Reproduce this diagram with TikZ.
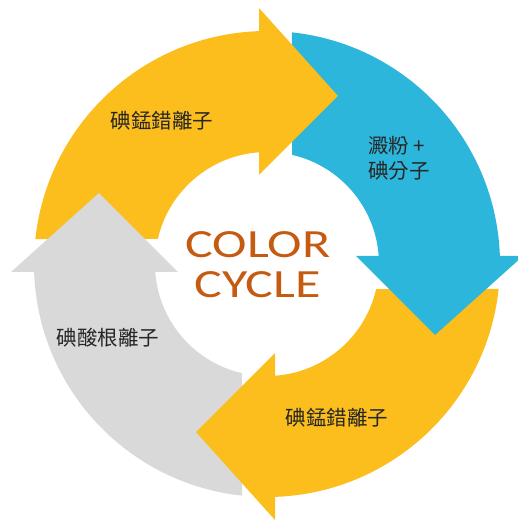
\documentclass[tikz,border=0pt]{standalone}
\usepackage{fontspec}
\usepackage{graphicx}
\setmainfont{Carlito}
\newfontfamily\cjk{Noto Sans CJK TC}
\definecolor{arrowyellow}{HTML}{FBBE1C}
\definecolor{arrowblue}{HTML}{2DB6DB}
\definecolor{arrowgray}{HTML}{D9D9DA}
\definecolor{titleorange}{HTML}{C55A11}
\begin{document}
\begin{tikzpicture}[x=1pt,y=1pt,
  yel/.style={fill=arrowyellow},
  blu/.style={fill=arrowblue},
  gry/.style={fill=arrowgray},
  title/.style={inner sep=0pt, text=titleorange, font=\fontsize{40}{40}\selectfont},
  label/.style={inner sep=0pt, text=black!85, font=\cjk\fontsize{20.5}{25}\selectfont}]
\useasboundingbox (-267,-260) rectangle (251,264);
% bands
\begin{scope}[rotate=0]
  \fill[yel] (173.84:233) arc[start angle=173.84,end angle=90,radius=233] -- (90:112) arc[start angle=90,end angle=167.1,radius=112] -- cycle;
\end{scope}
\begin{scope}[rotate=-90]
  \fill[blu] (173.84:233) arc[start angle=173.84,end angle=90,radius=233] -- (90:112) arc[start angle=90,end angle=167.1,radius=112] -- cycle;
\end{scope}
\begin{scope}[rotate=-180]
  \fill[yel] (173.84:233) arc[start angle=173.84,end angle=90,radius=233] -- (90:112) arc[start angle=90,end angle=167.1,radius=112] -- cycle;
\end{scope}
\begin{scope}[rotate=90]
  \fill[gry] (173.84:233) arc[start angle=173.84,end angle=90,radius=233] -- (90:112) arc[start angle=90,end angle=167.1,radius=112] -- cycle;
\end{scope}
% heads
\begin{scope}[rotate=0]
  \fill[yel] (-8,89) -- (-8,256) -- (71,168) -- cycle;
\end{scope}
\begin{scope}[rotate=-90]
  \fill[blu] (-8,89) -- (-8,256) -- (71,168) -- cycle;
\end{scope}
\begin{scope}[rotate=-180]
  \fill[yel] (-8,89) -- (-8,256) -- (71,168) -- cycle;
\end{scope}
\begin{scope}[rotate=90]
  \fill[gry] (-8,89) -- (-8,256) -- (71,168) -- cycle;
\end{scope}
% labels
\node[title, anchor=base] (t1) at (-9,6) {\scalebox{1.3}[1]{COLOR}};
\node[title, anchor=base] (t2) at (-9.5,-34) {\scalebox{1.3}[1]{CYCLE}};
\node[label] (top) at (-105,143) {碘錳錯離子};
\node[label, align=left, anchor=west] (blue) at (101,106) {澱粉 +\\碘分子};
\node[label] (bottom) at (70,-154) {碘錳錯離子};
\node[label] (gray) at (-159,-74) {碘酸根離子};
\end{tikzpicture}
\end{document}
